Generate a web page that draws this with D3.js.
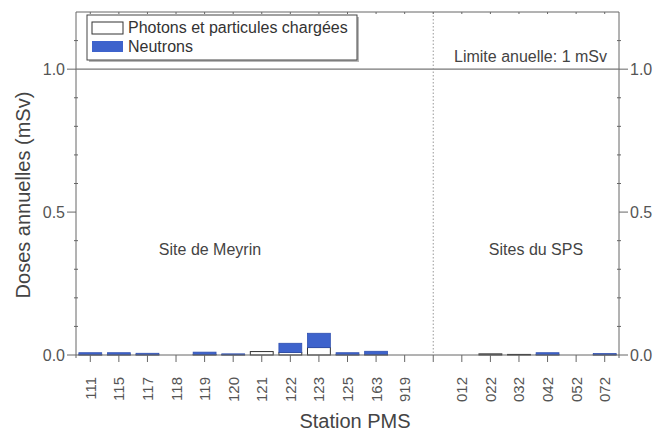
<!DOCTYPE html>
<html><head><meta charset="utf-8">
<script src="https://cdn.jsdelivr.net/npm/d3@7"></script>
<style>body{margin:0;background:#fff}text{font-family:"Liberation Sans",Arial,sans-serif}</style>
</head><body><svg id="c" width="655" height="432"></svg>
<script>
const stations = ["111","115","117","118","119","120","121","122","123","125","163","919","gap","012","022","032","042","052","072"];
const photons  = [0.001,0.001,0.001,0,0.002,0.001,0.012,0.009,0.026,0.001,0.002,0,0,0,0.004,0.002,0.001,0,0.001];
const neutrons = [0.007,0.007,0.005,0,0.008,0.003,0,0.032,0.050,0.007,0.011,0,0,0,0,0,0.007,0,0.004];
const yTicks = [0.0,0.5,1.0];
const yMinor = [0.1,0.2,0.3,0.4,0.6,0.7,0.8,0.9,1.1];
const legendLabels = ["Photons et particules chargées","Neutrons"];

const svg = d3.select("#c");
const L=76,R=619,T=12,B=355;
const x = d3.scaleBand().domain(stations).range([L,R]).padding(0);
const y = d3.scaleLinear().domain([0,1.2]).range([B,T]);
const axisCol="#666", txtCol="#555", blue="#3e63cc";

// bars
const bw = x.bandwidth()*0.8;
const g = svg.append("g");
stations.forEach((s,i)=>{
  if(s==="gap") return;
  const cx = x(s)+x.bandwidth()/2;
  if(photons[i]>0){
    g.append("rect").attr("x",cx-bw/2).attr("y",y(photons[i])).attr("width",bw)
     .attr("height",y(0)-y(photons[i])).attr("fill","#fff").attr("stroke","#333").attr("stroke-width",1);
  }
  if(neutrons[i]>0){
    g.append("rect").attr("x",cx-bw/2).attr("y",y(photons[i]+neutrons[i])).attr("width",bw)
     .attr("height",y(photons[i])-y(photons[i]+neutrons[i])).attr("fill",blue).attr("stroke","#3050b0").attr("stroke-width",0.8);
  }
});

// frame
svg.append("line").attr("x1",L).attr("x2",R).attr("y1",T).attr("y2",T).attr("stroke",axisCol);
svg.append("line").attr("x1",L).attr("x2",R).attr("y1",B).attr("y2",B).attr("stroke",axisCol);
svg.append("line").attr("x1",L).attr("x2",L).attr("y1",T).attr("y2",B+3).attr("stroke",axisCol);
svg.append("line").attr("x1",R).attr("x2",R).attr("y1",T).attr("y2",B+3).attr("stroke",axisCol);

// limit line
svg.append("line").attr("x1",L).attr("x2",R).attr("y1",y(1)).attr("y2",y(1)).attr("stroke","#777").attr("stroke-width",1.2);
// dotted separator
svg.append("line").attr("x1",x("gap")+x.bandwidth()/2).attr("x2",x("gap")+x.bandwidth()/2)
  .attr("y1",T).attr("y2",B).attr("stroke","#999").attr("stroke-dasharray","1.5,2");

// y ticks
[L,R].forEach((ax,k)=>{
  const dir = k===0?-1:1;
  yTicks.forEach(v=>{
    svg.append("line").attr("x1",ax).attr("x2",ax+dir*9).attr("y1",y(v)).attr("y2",y(v)).attr("stroke",axisCol);
    svg.append("text").attr("x",ax+dir*11).attr("y",y(v)).attr("dy","0.35em")
      .attr("text-anchor",k===0?"end":"start").attr("font-size",16).attr("fill",txtCol).text(v.toFixed(1));
  });
  yMinor.forEach(v=>{
    svg.append("line").attr("x1",ax-2).attr("x2",ax+2).attr("y1",y(v)).attr("y2",y(v)).attr("stroke",axisCol);
  });
});

// x ticks
stations.forEach(s=>{
  const cx = x(s)+x.bandwidth()/2;
  svg.append("line").attr("x1",cx).attr("x2",cx).attr("y1",B).attr("y2",B+7).attr("stroke",axisCol);
  svg.append("line").attr("x1",cx).attr("x2",cx).attr("y1",T).attr("y2",T+2).attr("stroke",axisCol);
  if(s!=="gap"){
    svg.append("text").attr("transform",`translate(${cx+5.5},377) rotate(-90)`)
      .attr("text-anchor","end").attr("font-size",15).attr("fill",txtCol).text(s);
  }
});

// titles
svg.append("text").attr("transform","translate(30,195) rotate(-90)").attr("text-anchor","middle")
  .attr("font-size",20).attr("fill","#444").text("Doses annuelles (mSv)");
svg.append("text").attr("x",355).attr("y",428).attr("text-anchor","middle")
  .attr("font-size",20).attr("fill","#444").text("Station PMS");

svg.append("text").attr("x",210).attr("y",255).attr("text-anchor","middle").attr("font-size",16).attr("fill","#444").text("Site de Meyrin");
svg.append("text").attr("x",536).attr("y",255).attr("text-anchor","middle").attr("font-size",16).attr("fill","#444").text("Sites du SPS");
svg.append("text").attr("x",607).attr("y",62).attr("text-anchor","end").attr("font-size",16).attr("fill","#444").text("Limite anuelle: 1 mSv");

// legend
const lg = svg.append("g");
lg.append("rect").attr("x",89).attr("y",17).attr("width",270).attr("height",45).attr("fill","#888").attr("opacity",0.6);
lg.append("rect").attr("x",87).attr("y",15).attr("width",270).attr("height",45).attr("fill","#fff").attr("stroke","#444");
lg.append("rect").attr("x",92).attr("y",22).attr("width",31).attr("height",12).attr("fill","#fff").attr("stroke","#333");
lg.append("rect").attr("x",92).attr("y",41).attr("width",31).attr("height",11).attr("fill",blue);
legendLabels.forEach((t,i)=>{
  lg.append("text").attr("x",128).attr("y",33+i*19).attr("font-size",16).attr("fill","#333").text(t);
});
</script></body></html>
